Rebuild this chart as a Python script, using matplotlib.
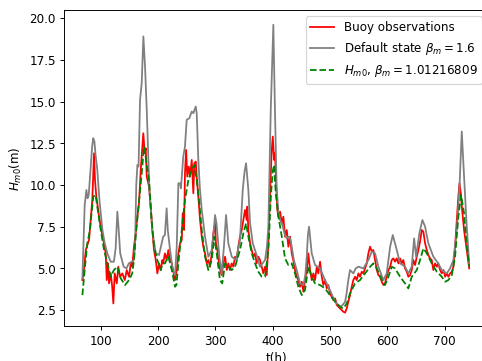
import matplotlib
matplotlib.use('Agg')
import matplotlib.pyplot as plt

# buoy observations
t_obs = [68, 70, 74, 76.6, 79.6, 82.5, 85.3, 88.3, 90, 92.3, 94, 97, 101, 104.5, 108.7, 110.5, 112.7,
         114.5, 117.5, 120, 122, 124.4, 128, 130.7, 133.7, 137.7, 142, 145.4, 149.4, 152.4, 155, 158,
         161, 163.9, 166.8, 169.8, 172.6, 174.3, 176.8, 178.5, 180.3, 184.3, 187.3, 190, 193, 196,
         198.8, 201.7, 204.7, 207.5, 209, 212, 215, 218, 221, 224, 226.7, 229.7, 232.6, 235.5, 238.4,
         241.4, 243, 245.4, 247, 249, 251, 253.6, 255.8, 258.8, 261.6, 263.4, 265.8, 267.5, 270.3,
         273.3, 276.3, 279, 282, 285, 287.8, 290.7, 293.7, 296.5, 299.5, 301, 303.5, 307, 311, 314,
         317, 320, 322.7, 325.6, 328.6, 331.4, 334.4, 337.3, 340, 343, 346, 348.9, 351.8, 354.8,
         355.8, 357.6, 360.6, 363.5, 366.3, 369.3, 372, 375, 378, 381, 383.8, 386.7, 389.7, 392.5,
         395.4, 398.4, 400.2, 402.5, 404.2, 406, 408.2, 410, 413, 416, 418.7, 421.6, 424.6, 427.4,
         430.4, 433.3, 436, 439, 442, 444.8, 447.8, 450.8, 453.6, 456.5, 459.5, 462.3, 465.3, 468.2,
         471, 474, 477, 479.7, 482.7, 485.7, 488.5, 491.4, 494.4, 497.2, 500, 503, 506, 509, 511.9,
         514.7, 517.6, 520.6, 523.4, 526.4, 529.3, 532, 535, 538, 540.8, 543.8, 546.7, 549.6, 552.5,
         555.5, 558.3, 561.3, 564.2, 567, 570, 573, 575.7, 578.7, 581.7, 584.5, 587.5, 590.4, 593.2,
         596, 599, 602, 605, 607.8, 610.6, 613.6, 616.6, 619.4, 622.3, 625.3, 628, 631, 634, 636.8,
         639.8, 642.7, 645.5, 648.5, 651.5, 654.3, 657.2, 660.2, 663, 666, 669, 671.7, 674.7, 677.6,
         680.4, 683.4, 686.4, 689, 692.2, 695, 698, 701, 703.8, 706.6, 709.6, 712.6, 715.4, 718.3,
         721.3, 724, 726, 728.3, 730.6, 734, 738.7, 743]
h_obs = [4.3, 4.7, 6.1, 6.4, 6.7, 7.9, 9.1, 11.9, 10.3, 9.3, 8.9, 8.1, 7.3, 6.7, 5.9, 4.3, 5.3,
         4.1, 4.7, 3.9, 2.9, 4.7, 4.1, 5.1, 4.5, 4.7, 4.3, 4.9, 4.5, 5.3, 5.1, 6.3,
         7.1, 8.1, 8.9, 10.9, 12.3, 13.1, 11.9, 12.2, 10.5, 9.9, 8.7, 7.3, 6.1, 5.5,
         4.7, 5.3, 4.9, 5.5, 5.3, 5.9, 5.5, 6.1, 5.5, 5.3, 4.8, 4.3, 4.9, 5.9, 6.5,
         6.7, 8.3, 7.3, 10.7, 12.1, 10.5, 11.1, 10.5, 11.5, 9.5, 11.3, 11.4, 10.5, 9.3,
         7.9, 6.9, 6.3, 5.9, 5.3, 5.5, 5.1, 5.9, 7.1, 7.7, 6.5, 6.1, 5.1, 4.6, 5.3,
         5.7, 4.9, 5.3, 4.9, 5.3, 5.1, 5.7, 5.5, 6.3, 6.9, 7.3, 7.9, 8.5, 7.9,
         8.7, 7.3, 6.5, 6.1, 5.7, 5.9, 5.3, 5.7, 5.5, 5.1, 4.7, 5.1, 4.6, 6.5,
         9.5, 12.1, 12.9, 11.5, 11.9, 10.1, 8.5, 8.1, 8.4, 7.7, 8.1, 6.9, 7.3, 6.3,
         6.9, 5.9, 5.5, 4.9, 4.5, 4.3, 3.9, 4.2, 3.6, 4.3, 4.9, 5.9, 4.9, 4.3,
         4.7, 4.3, 5.1, 4.7, 5.4, 4.5, 4.0, 4.3, 3.8, 4.0, 3.5, 3.3, 3.1, 3.2, 2.8,
         2.7, 2.6, 2.5, 2.4, 2.35, 2.6, 3.0, 3.4, 3.9, 4.3, 4.5, 4.3, 4.7, 4.5,
         4.8, 4.7, 5.0, 5.3, 5.9, 6.3, 6.0, 6.1, 5.5, 4.9, 4.6, 4.5, 4.2, 4.0,
         4.1, 4.5, 4.9, 5.1, 5.5, 5.6, 5.4, 5.6, 5.3, 5.6, 5.3, 5.5, 5.0, 4.8, 4.5,
         4.6, 4.9, 5.5, 5.2, 5.7, 6.1, 6.6, 7.3, 7.2, 6.5, 6.1, 5.8, 5.6, 5.5,
         4.9, 5.3, 5.1, 5.3, 4.9, 4.7, 4.9, 4.5, 4.7, 4.5, 4.7, 4.8, 5.1, 6.3,
         7.9, 9.3, 10.1, 9.5, 8.5, 7.3, 6.1, 5.0]

# default state, beta_m = 1.6
t_def = [68, 70, 72, 75, 77, 79, 82, 85, 87, 89, 91, 94, 98, 103, 107, 111.5, 117.5, 123, 126, 129,
         131, 134, 140, 145, 149, 154, 158, 160, 162, 164, 166, 168.6, 171.5, 174.4, 177.3, 180.3,
         183.1, 185, 190, 196, 201.7, 205, 209, 212, 215, 217, 221, 225.6, 229.7, 232.6, 235.5,
         238.4, 240, 244, 247, 250, 254.6, 258.8, 261.6, 265.8, 267.5, 270.3, 273, 276.3, 282,
         287.8, 293.7, 297, 299.5, 302, 307, 311, 315, 318.7, 322.7, 328.6, 336, 343, 347.8, 351,
         353.6, 357.6, 360.6, 365.3, 372, 378, 386.7, 390, 392.5, 396.7, 401.2, 404, 407, 410, 413,
         416, 421.6, 424.6, 427.4, 430.4, 433.3, 437, 442, 447.8, 453.6, 457, 459.5, 461.5, 463.5,
         465.5, 468.2, 474, 482.7, 491.4, 500, 509, 517.6, 522, 526.4, 529, 532, 535, 540.8, 545,
         549.6, 558.3, 567, 573, 578.7, 584.5, 593.2, 599, 605, 609.6, 616.6, 622.3, 631, 636.8,
         642.7, 646.8, 650.3, 656, 661.3, 666, 671.7, 680.4, 689, 695, 703.8, 709.6, 715.4, 721.3,
         725.8, 730, 734, 738.7, 743]
h_def = [4.4, 6.5, 8.8, 9.7, 9.2, 9.4, 10.8, 12.3, 12.8, 12.6, 11.8, 10.9, 9.0, 7.3, 6.5, 5.9, 5.4, 5.4, 6.2, 8.4,
         7.5, 5.9, 5.1, 5.0, 5.3, 5.4, 5.5, 6.5, 10.0, 11.2, 11.1, 15.1, 16.1, 18.9, 17.1, 14.5,
         11.5, 9.6, 7.3, 5.9, 5.8, 6.3, 6.9, 7.0, 8.6, 7.3, 6.1, 4.9, 4.6, 6.3, 10.1,
         10.1, 9.8, 11.7, 12.3, 13.9, 14.0, 14.4, 14.3, 14.7, 14.3, 11.5, 9.8, 8.5, 6.9,
         5.7, 6.1, 7.2, 8.2, 7.7, 5.7, 4.7, 6.3, 8.2, 6.5, 5.7, 5.5, 6.7, 9.7, 10.8,
         11.3, 9.7, 7.7, 6.5, 5.8, 5.1, 5.5, 6.3, 7.5, 14.5, 19.6, 14.5, 9.8, 8.4, 7.9,
         7.7, 7.0, 6.8, 6.9, 6.8, 6.3, 5.5, 4.9, 4.1, 4.0, 4.6, 5.7, 7.0, 7.5,
         6.8, 5.9, 5.2, 5.0, 4.3, 3.7, 3.0, 2.7, 2.8, 3.0, 3.5, 4.3, 4.9, 4.7, 5.0,
         5.1, 5.0, 5.5, 6.0, 5.9, 5.1, 4.3, 4.7, 6.3, 7.0, 6.1, 5.3, 5.1, 4.7,
         5.1, 6.8, 5.7, 7.1, 7.9, 7.5, 6.5, 5.7, 5.3, 4.9, 4.7, 5.0, 5.5, 7.3,
         9.7, 13.2, 10.5, 7.5, 5.3]

# fitted Hm0, beta_m = 1.01216809
t_fit = [68, 72, 76.6, 81.3, 84, 87, 91, 94, 100, 105.8, 111.5, 117.5, 123, 129, 135, 142.4, 149.4,
         155, 158, 161, 167, 171, 175.6, 178, 181, 184.3, 188.3, 193, 198.8, 204.7, 208, 212, 218,
         224, 229.7, 232, 235.5, 241.4, 247, 253, 258.8, 263.4, 267.5, 272, 276.3, 282, 287.8,
         293.7, 298.3, 302.4, 308, 312, 317, 322.7, 328.6, 334.4, 343, 348.9, 353.6, 357.6, 363.5,
         369.3, 375, 381, 386.7, 392.5, 397.2, 400, 402.5, 404.5, 406, 410, 416, 421.6, 427.4,
         433.3, 439, 444.8, 450.8, 456.5, 462.3, 468.2, 474, 482.7, 491.4, 500, 509, 517.6, 523.4,
         529.3, 535, 543.8, 552.5, 561.3, 570, 575.7, 581.7, 590.4, 596, 602, 607.8, 613.6, 622.3,
         631, 636.8, 642.7, 651.5, 657.2, 663, 669, 677.6, 686.4, 695, 701, 706.6, 712.6, 718.3,
         724, 728.8, 734, 738.7, 743]
h_fit = [3.4, 4.9, 6.5, 7.3, 8.3, 9.3, 9.4, 8.7, 7.3, 6.1, 5.3, 4.5, 4.9, 5.1, 4.4, 4.0, 4.3,
         4.7, 5.5, 6.9, 9.1, 10.5, 12.3, 11.8, 11.0, 10.3, 8.1, 6.3, 5.5, 4.9, 5.3, 5.3, 5.7,
         4.9, 3.9, 4.0, 5.3, 7.3, 9.1, 10.3, 10.9, 11.2, 10.3, 8.9, 7.3, 5.7, 4.9,
         5.5, 6.9, 5.9, 4.3, 4.1, 5.3, 5.1, 4.9, 5.1, 6.1, 7.1, 7.7, 6.9, 5.9,
         5.3, 4.8, 4.5, 4.5, 6.1, 9.5, 10.8, 11.2, 10.0, 9.3, 8.1, 6.9, 5.6, 5.2,
         5.3, 4.7, 3.9, 3.4, 3.7, 5.1, 4.5, 4.1, 4.0, 3.8, 3.4, 3.0, 2.7, 2.6,
         2.9, 3.5, 4.1, 4.3, 4.7, 5.1, 5.3, 5.0, 4.3, 4.0, 4.5, 5.1, 5.0, 4.5,
         4.1, 3.8, 4.5, 4.9, 5.5, 6.2, 5.9, 5.3, 4.8, 4.5, 4.2, 4.3, 4.6, 5.7,
         8.1, 9.4, 8.3, 6.3, 5.1]

# the reference looks like a default figure shown at ~0.855 scale,
# so draw at a lower dpi to get the same font and line sizes
DPI = 85.5
fig = plt.figure(figsize=(482.3 / DPI, 361.3 / DPI), dpi=DPI)
ax = fig.add_axes([0.1328, 0.097, 0.8793, 0.8734])

ax.plot(t_obs, h_obs, color='red', lw=1.5, label='Buoy observations')
ax.plot(t_def, h_def, color='grey', lw=1.5, label=r'Default state $\beta_m = 1.6$')
ax.plot(t_fit, h_fit, color='green', lw=1.5, ls='--', label=r'$H_{m0}$, $\beta_m = 1.01216809$')

ax.set_xlim(36, 776)
ax.set_ylim(1.55, 20.46)
ax.set_xticks([100, 200, 300, 400, 500, 600, 700])
ax.set_yticks([2.5, 5.0, 7.5, 10.0, 12.5, 15.0, 17.5, 20.0])
ax.set_xlabel('t(h)')
ax.set_ylabel(r'$H_{m0}$(m)')
ax.legend(loc='upper right')

fig.savefig('out.png', dpi=DPI)
